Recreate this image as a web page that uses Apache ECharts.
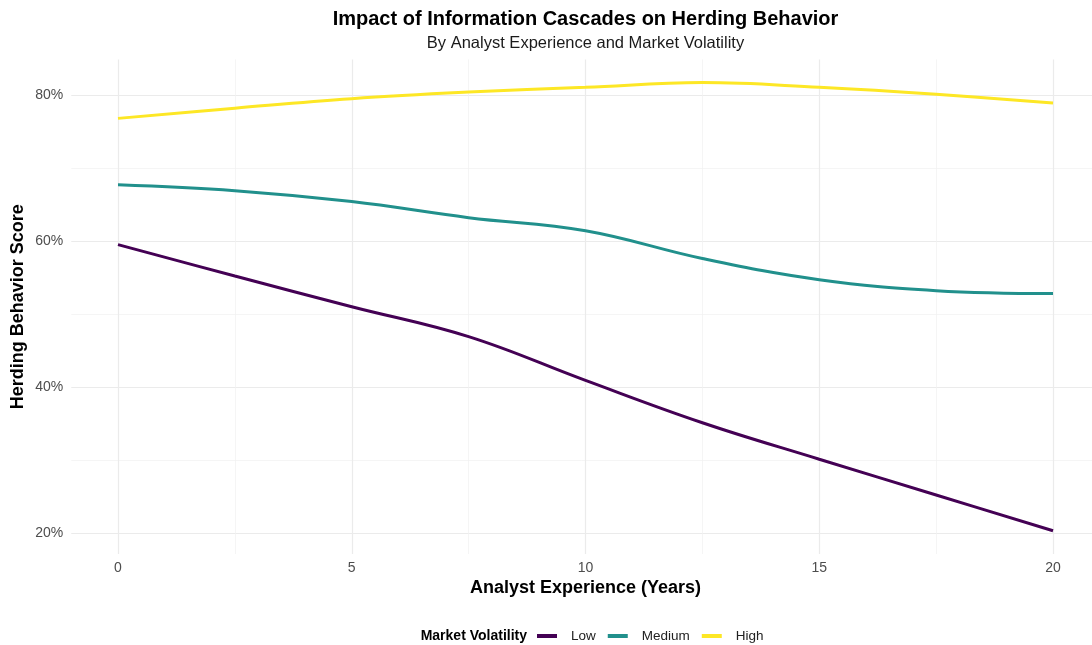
<!DOCTYPE html>
<html>
<head>
<meta charset="utf-8">
<script src="https://cdn.jsdelivr.net/npm/echarts@6/dist/echarts.min.js"></script>
<style>
  html, body { margin: 0; padding: 0; background: #ffffff; }
  #chart { width: 1092px; height: 645px; }
</style>
</head>
<body>
<div id="chart"></div>
<script>
// ---- data ----
const years = [0, 2.5, 5, 7.5, 10, 12.5, 15, 17.5, 20];
const lowValues = [59.5, 55.2, 51.0, 46.9, 40.9, 35.1, 30.1, 25.2, 20.3];
const mediumValues = [67.7, 66.9, 65.4, 63.2, 61.4, 57.6, 54.7, 53.2, 52.8];
const highValues = [76.8, 78.2, 79.5, 80.4, 81.05, 81.7, 81.05, 80.1, 78.9];
const seriesNames = ['Low', 'Medium', 'High'];
const xTickLabels = [0, 5, 10, 15, 20];
const xMinorTicks = [2.5, 7.5, 12.5, 17.5];
const yTickLabels = [20, 40, 60, 80];
const yMinorTicks = [30, 50, 70];

const colors = ['#440154', '#21908C', '#FDE725'];
const FONT = '"Liberation Sans", Arial, Helvetica, sans-serif';

function pairs(xs, ys) { return xs.map((x, i) => [x, ys[i]]); }

const xMin = -1, xMax = 20.834;
const gridLeft = 71.25, gridTop = 59.4, gridWidth = 1092 - 71.25, gridHeight = 494.6;
const panelCenterX = 585.5;

const chart = echarts.init(document.getElementById('chart'), null, { renderer: 'canvas' });

const option = {
  animation: false,
  backgroundColor: '#ffffff',
  textStyle: { fontFamily: FONT },
  grid: { left: gridLeft, top: gridTop, width: gridWidth, height: gridHeight, containLabel: false },
  xAxis: [
    {
      type: 'value', min: xMin, max: xMax,
      axisLine: { show: false },
      axisTick: { show: false, customValues: xTickLabels },
      axisLabel: { customValues: xTickLabels, color: '#4D4D4D', fontSize: 14, fontFamily: FONT, margin: 7 },
      splitLine: { show: true, lineStyle: { color: '#EBEBEB', width: 1.2 } }
    },
    {
      type: 'value', min: xMin, max: xMax, gridIndex: 0,
      axisLine: { show: false },
      axisTick: { show: false, customValues: xMinorTicks },
      axisLabel: { show: false, customValues: xMinorTicks },
      splitLine: { show: true, lineStyle: { color: '#F0F0F0', width: 0.7 } }
    }
  ],
  yAxis: [
    {
      type: 'value', min: 17.12, max: 84.88,
      axisLine: { show: false },
      axisTick: { show: false, customValues: yTickLabels },
      axisLabel: { customValues: yTickLabels, formatter: '{value}%', color: '#4D4D4D', fontSize: 14, fontFamily: FONT, margin: 8 },
      splitLine: { show: true, lineStyle: { color: '#EBEBEB', width: 1.2 } }
    },
    {
      type: 'value', min: 17.12, max: 84.88, gridIndex: 0,
      axisLine: { show: false },
      axisTick: { show: false, customValues: yMinorTicks },
      axisLabel: { show: false, customValues: yMinorTicks },
      splitLine: { show: true, lineStyle: { color: '#F0F0F0', width: 0.7 } }
    }
  ],
  legend: {
    left: 537, top: 629,
    padding: 0,
    orient: 'horizontal',
    icon: 'rect',
    itemWidth: 20, itemHeight: 4,
    itemGap: 12,
    data: seriesNames,
    textStyle: { color: '#222222', fontSize: 13.5, fontFamily: FONT, padding: [0, 0, 0, 9] }
  },
  series: [
    { name: 'Low', type: 'line', xAxisIndex: 0, yAxisIndex: 0, data: pairs(years, lowValues), smooth: 0.4, showSymbol: false, symbol: 'none', lineStyle: { width: 3, color: colors[0] }, itemStyle: { color: colors[0] } },
    { name: 'Medium', type: 'line', xAxisIndex: 0, yAxisIndex: 0, data: pairs(years, mediumValues), smooth: 0.4, showSymbol: false, symbol: 'none', lineStyle: { width: 3, color: colors[1] }, itemStyle: { color: colors[1] } },
    { name: 'High', type: 'line', xAxisIndex: 0, yAxisIndex: 0, data: pairs(years, highValues), smooth: 0.4, showSymbol: false, symbol: 'none', lineStyle: { width: 3, color: colors[2] }, itemStyle: { color: colors[2] } }
  ],
  graphic: [
    { type: 'text', x: panelCenterX, y: 19, silent: true,
      style: { text: 'Impact of Information Cascades on Herding Behavior', font: 'bold 20px ' + FONT, fill: '#000000', align: 'center', verticalAlign: 'middle' } },
    { type: 'text', x: panelCenterX, y: 43, silent: true,
      style: { text: 'By Analyst Experience and Market Volatility', font: '16.5px ' + FONT, fill: '#1a1a1a', align: 'center', verticalAlign: 'middle' } },
    { type: 'text', x: panelCenterX, y: 588, silent: true,
      style: { text: 'Analyst Experience (Years)', font: 'bold 18px ' + FONT, fill: '#000000', align: 'center', verticalAlign: 'middle' } },
    { type: 'text', x: 18, y: gridTop + gridHeight / 2, rotation: Math.PI / 2, silent: true,
      style: { text: 'Herding Behavior Score', font: 'bold 18px ' + FONT, fill: '#000000', align: 'center', verticalAlign: 'middle' } },
    { type: 'text', x: 527, y: 636, silent: true,
      style: { text: 'Market Volatility', font: 'bold 14px ' + FONT, fill: '#000000', align: 'right', verticalAlign: 'middle' } }
  ]
};

chart.setOption(option);
</script>
</body>
</html>
